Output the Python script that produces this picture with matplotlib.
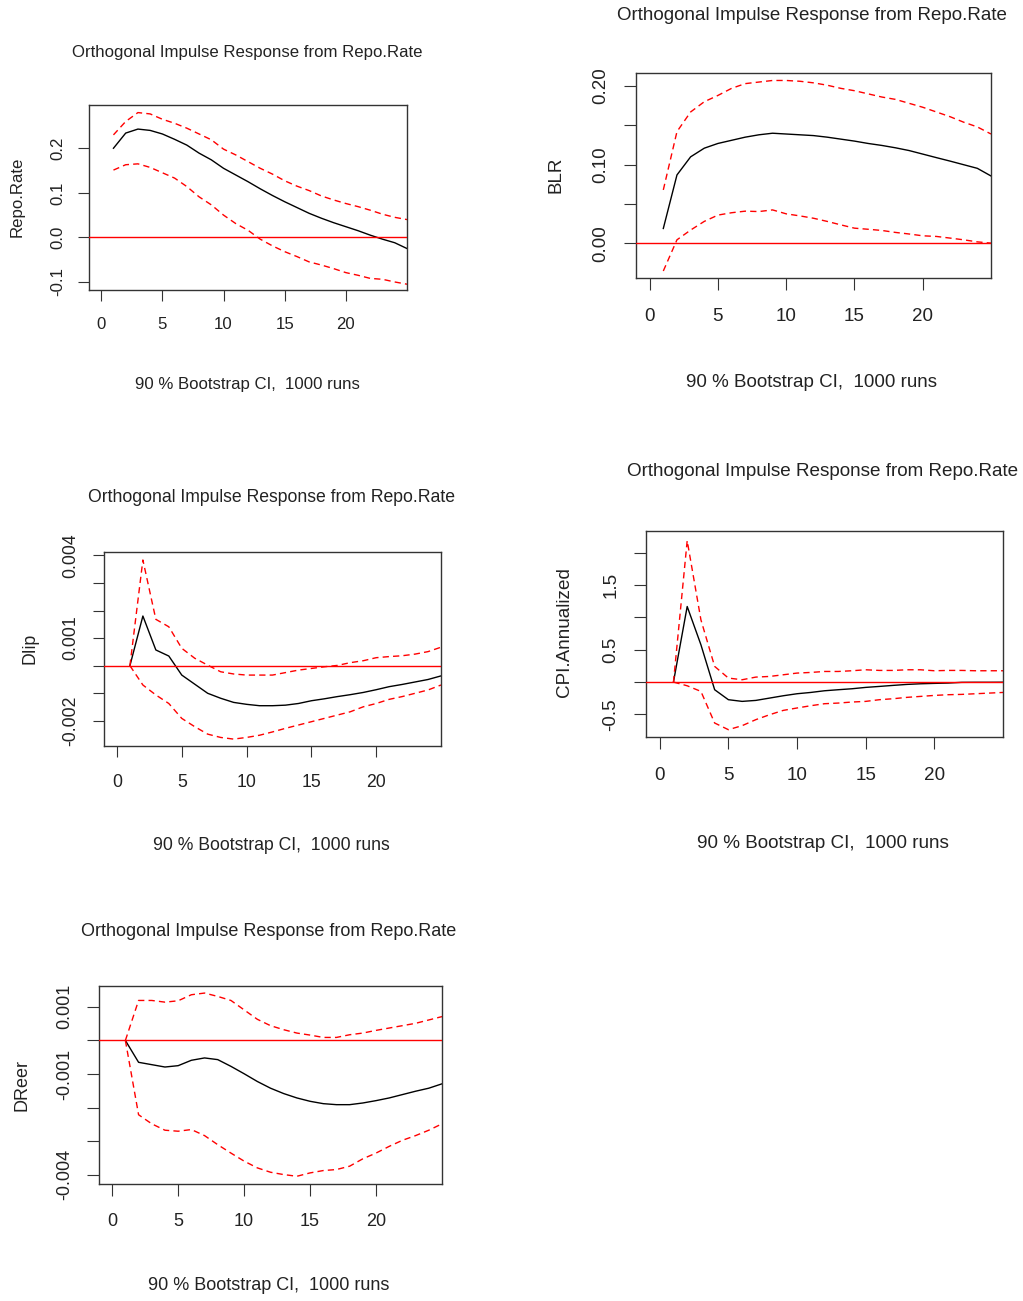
import numpy as np
import matplotlib
matplotlib.use("Agg")
import matplotlib.pyplot as plt

plt.rcParams['font.family'] = ['Liberation Sans', 'DejaVu Sans']

W, H = 1023, 1301
steps = np.arange(1, 26)
title = "Orthogonal Impulse Response from Repo.Rate"
subtitle = "90 % Bootstrap CI,  1000 runs"

# Repo.Rate
repo_irf = [0.200, 0.234, 0.243, 0.240, 0.232, 0.220, 0.207, 0.189, 0.174, 0.155, 0.140, 0.125, 0.109,
            0.094, 0.080, 0.067, 0.054, 0.043, 0.033, 0.024, 0.015, 0.005, -0.004, -0.012, -0.025]
repo_up = [0.230, 0.260, 0.280, 0.277, 0.265, 0.256, 0.245, 0.232, 0.219, 0.198, 0.185, 0.170, 0.155,
           0.142, 0.127, 0.115, 0.105, 0.093, 0.084, 0.076, 0.069, 0.061, 0.052, 0.045, 0.040]
repo_lo = [0.151, 0.163, 0.165, 0.157, 0.145, 0.133, 0.114, 0.091, 0.073, 0.050, 0.031, 0.016, -0.004,
           -0.019, -0.032, -0.043, -0.055, -0.062, -0.070, -0.079, -0.085, -0.092, -0.094, -0.100, -0.105]

# BLR
blr_irf = [0.019, 0.087, 0.110, 0.121, 0.127, 0.131, 0.135, 0.138, 0.140, 0.139, 0.138, 0.137, 0.135,
           0.1325, 0.130, 0.127, 0.1245, 0.1215, 0.118, 0.1135, 0.109, 0.1046, 0.100, 0.0954, 0.0857]
blr_up = [0.068, 0.142, 0.167, 0.180, 0.188, 0.197, 0.203, 0.205, 0.207, 0.207, 0.206, 0.204, 0.201,
          0.197, 0.194, 0.190, 0.186, 0.183, 0.178, 0.173, 0.167, 0.161, 0.154, 0.148, 0.139]
blr_lo = [-0.035, 0.0046, 0.017, 0.028, 0.036, 0.039, 0.041, 0.0405, 0.0426, 0.0376, 0.035, 0.032, 0.028,
          0.0236, 0.0194, 0.018, 0.0165, 0.014, 0.012, 0.0097, 0.0089, 0.0068, 0.0046, 0.002, 0.0004]

# DIip
dip_irf = [0.0, 0.0018, 0.00057, 0.00035, -0.00034, -0.00067, -0.0010, -0.00118, -0.00133, -0.0014,
           -0.00145, -0.00145, -0.00143, -0.00137, -0.00127, -0.0012, -0.00112, -0.00105, -0.00097,
           -0.00087, -0.00076, -0.00068, -0.00059, -0.0005, -0.00037]
dip_up = [0.0, 0.00383, 0.00168, 0.00141, 0.00063, 0.00027, 0.00002, -0.00022, -0.0003, -0.00034,
          -0.00034, -0.00034, -0.00025, -0.00016, -0.0001, -0.00004, 0.00001, 0.00011, 0.00018,
          0.00029, 0.00033, 0.00036, 0.00042, 0.00051, 0.00067]
dip_lo = [0.0, -0.0007, -0.00106, -0.00137, -0.00191, -0.00221, -0.00248, -0.0026, -0.00266, -0.0026,
          -0.00252, -0.0024, -0.00227, -0.00215, -0.00203, -0.00191, -0.00179, -0.00167, -0.00149,
          -0.00137, -0.00122, -0.00112, -0.0010, -0.00088, -0.0007]

# CPI.Annualized
cpi_irf = [0.0, 1.167, 0.576, -0.118, -0.272, -0.298, -0.283, -0.247, -0.211, -0.180, -0.160, -0.134,
           -0.118, -0.103, -0.082, -0.067, -0.051, -0.036, -0.026, -0.020, -0.015, -0.004, -0.003,
           -0.003, -0.002]
cpi_up = [0.0, 2.184, 0.961, 0.242, 0.062, 0.036, 0.077, 0.087, 0.113, 0.139, 0.149, 0.164, 0.164,
          0.175, 0.190, 0.180, 0.180, 0.190, 0.190, 0.175, 0.180, 0.180, 0.175, 0.175, 0.175]
cpi_lo = [0.0, -0.057, -0.144, -0.632, -0.735, -0.673, -0.580, -0.504, -0.437, -0.400, -0.365, -0.334,
          -0.324, -0.308, -0.298, -0.272, -0.257, -0.236, -0.221, -0.206, -0.195, -0.190, -0.180,
          -0.170, -0.160]

# DReer
dreer_irf = [0.0, -0.00065, -0.00072, -0.00079, -0.00075, -0.00059, -0.00052, -0.00057, -0.00077,
             -0.00099, -0.00122, -0.00142, -0.00158, -0.00171, -0.00181, -0.00188, -0.00191, -0.00191,
             -0.00186, -0.00179, -0.00171, -0.00161, -0.00151, -0.00142, -0.00129]
dreer_up = [0.0, 0.00119, 0.00119, 0.00114, 0.00118, 0.00136, 0.00141, 0.00131, 0.00119, 0.00091,
            0.00063, 0.00044, 0.00032, 0.00022, 0.00016, 0.00009, 0.00009, 0.00017, 0.00022, 0.0003,
            0.00037, 0.00044, 0.00051, 0.00061, 0.00071]
dreer_lo = [0.0, -0.00221, -0.00248, -0.00267, -0.0027, -0.00265, -0.00283, -0.0031, -0.00335,
            -0.00359, -0.00379, -0.00392, -0.00399, -0.00404, -0.00394, -0.00387, -0.00384, -0.00374,
            -0.00352, -0.00335, -0.00315, -0.00297, -0.00283, -0.00267, -0.00248]

# box (left, top, right, bottom) in px, ylim, yticks, which labels shown, font size, text spots
panels = [
    dict(name="Repo.Rate", irf=repo_irf, up=repo_up, lo=repo_lo,
         box=(89, 105, 407, 290), ylim=(-0.118, 0.297),
         yticks=[-0.1, 0.0, 0.1, 0.2], ylabs=["-0.1", "0.0", "0.1", "0.2"],
         fs=12.1, title=(247, 53), sub=(247, 384), ylab=(17, 197)),
    dict(name="BLR", irf=blr_irf, up=blr_up, lo=blr_lo,
         box=(636, 73, 991, 278), ylim=(-0.0439, 0.2165),
         yticks=[0.0, 0.05, 0.10, 0.15, 0.20], ylabs=["0.00", "", "0.10", "", "0.20"],
         fs=13.5, title=(812, 15), sub=(812, 383), ylab=(556, 175)),
    dict(name="DIip", irf=dip_irf, up=dip_up, lo=dip_lo,
         box=(104, 552, 441, 746), ylim=(-0.00291, 0.00412),
         yticks=[-0.002, -0.001, 0.0, 0.001, 0.002, 0.003, 0.004],
         ylabs=["-0.002", "", "", "0.001", "", "", "0.004"],
         fs=12.7, title=(272, 497), sub=(271, 845), ylab=(30, 648)),
    dict(name="CPI.Annualized", irf=cpi_irf, up=cpi_up, lo=cpi_lo,
         box=(646, 531, 1003, 737), ylim=(-0.848, 2.333),
         yticks=[-0.5, 0.0, 0.5, 1.0, 1.5, 2.0], ylabs=["-0.5", "", "0.5", "", "1.5", ""],
         fs=13.6, title=(823, 472), sub=(823, 843), ylab=(565, 632)),
    dict(name="DReer", irf=dreer_irf, up=dreer_up, lo=dreer_lo,
         box=(99, 986, 442, 1184), ylim=(-0.00427, 0.00162),
         yticks=[-0.004, -0.003, -0.002, -0.001, 0.0, 0.001],
         ylabs=["-0.004", "", "", "-0.001", "", "0.001"],
         fs=13.0, title=(269, 931), sub=(269, 1286), ylab=(22, 1085)),
]

fig = plt.figure(figsize=(W / 100, H / 100), dpi=100)

for p in panels:
    l, t, r, b = p["box"]
    ax = fig.add_axes([l / W, 1 - b / H, (r - l) / W, (b - t) / H])
    fs = p["fs"]
    ax.plot(steps, p["irf"], color="black", lw=1.0, zorder=2)
    ax.plot(steps, p["up"], color="red", lw=1.0, ls=(0, (4.5, 3)), zorder=2)
    ax.plot(steps, p["lo"], color="red", lw=1.0, ls=(0, (4.5, 3)), zorder=2)
    ax.axhline(0, color="red", lw=1.0, zorder=3)
    ax.set_xlim(-1, 25)
    ax.set_ylim(*p["ylim"])
    ax.set_xticks([0, 5, 10, 15, 20])
    ax.set_yticks(p["yticks"])
    ax.set_yticklabels(p["ylabs"], rotation=90, va="center")
    ax.tick_params(direction="out", length=fs * 0.65, width=0.8, colors="#333333",
                   labelsize=fs, labelcolor="#222222")
    ax.tick_params(axis="x", pad=fs * 0.95)
    ax.tick_params(axis="y", pad=fs * 0.75)
    for s in ax.spines.values():
        s.set_color("#333333")
        s.set_linewidth(1.0)
    tx, ty = p["title"]
    fig.text(tx / W, 1 - ty / H, title, ha="center", va="center", fontsize=fs, color="#222222")
    sx, sy = p["sub"]
    fig.text(sx / W, 1 - sy / H, subtitle, ha="center", va="center", fontsize=fs, color="#222222")
    yx, yy = p["ylab"]
    fig.text(yx / W, 1 - yy / H, p["name"], ha="center", va="center", rotation=90,
             fontsize=fs, color="#222222")

fig.savefig("out.png", dpi=100)
